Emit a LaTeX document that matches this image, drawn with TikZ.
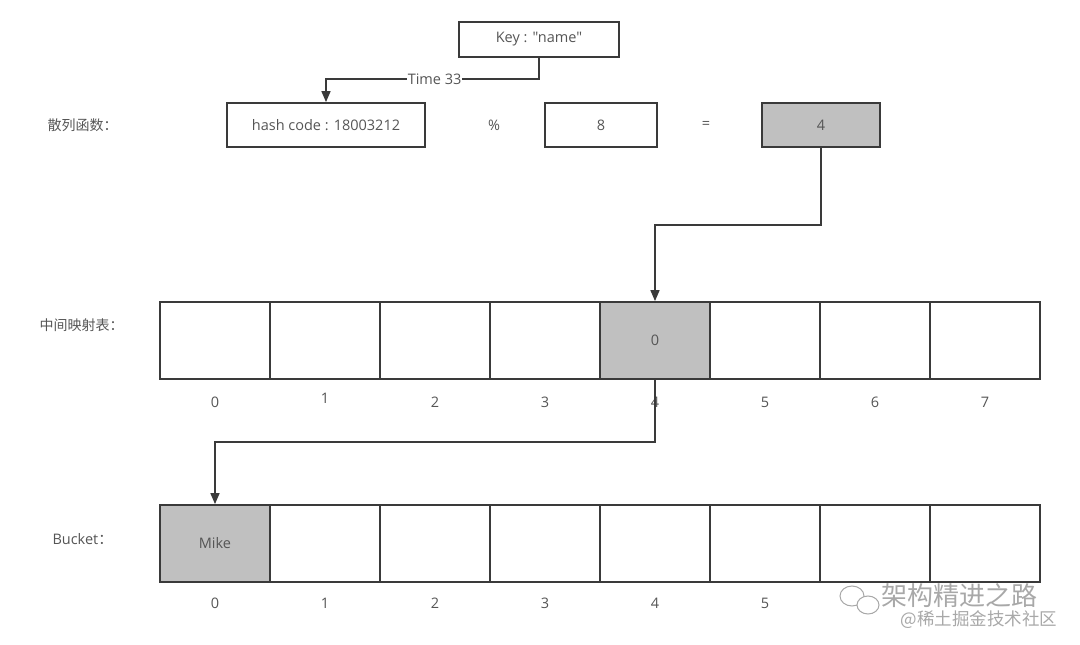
\documentclass[tikz,border=0pt]{standalone}
\usepackage{fontspec}
\setmainfont{Open Sans}[Ligatures=TeXOff]
\newfontfamily\cjk{Noto Sans CJK SC}
\usepackage{tikz}
\usetikzlibrary{positioning,arrows.meta}

\definecolor{linegray}{HTML}{3A3A3A}
\definecolor{textgray}{HTML}{555555}
\definecolor{cellgray}{HTML}{C0C0C0}
\definecolor{markgray}{HTML}{A8A8A8}

\tikzset{
  cell/.style={draw=linegray, line width=1.8pt, minimum width=110pt, minimum height=77pt, inner sep=0pt, text=textgray},
  box/.style={draw=linegray, line width=1.8pt, minimum height=44pt, inner sep=0pt, text=textgray},
  idx/.style={text=textgray},
  link/.style={draw=linegray, line width=1.6pt, -{Triangle[length=11pt,width=9pt]}},
}

\begin{document}
\begin{tikzpicture}[x=1pt, y=-1pt, node distance=110pt, on grid, font=\fontsize{14.5}{16}\selectfont]
			\useasboundingbox (0,0) rectangle (1080,645);
			% top: key and hash function
			\node[box, minimum width=160pt, minimum height=35pt] (key)  at (539,39.5)  {Key : "name"};
			\node[box, minimum width=198pt] (hash) at (326,125)   {hash code : 18003212};
			\node[idx]                      (mod)  at (494,125)   {\%};
			\node[box, minimum width=112pt] (size) at (601,125)   {8};
			\node[idx]                      (eq)   at (706,125)   {=};
			\node[box, minimum width=118pt, fill=cellgray] (res) at (821,125) {4};
			\node[idx, anchor=west, font=\cjk\fontsize{14}{16}\selectfont] (l_hash) at (44,125)  {散列函数：};
			% middle table
			\node[cell]              (c_0) at (215,340.5) {};
			\node[cell]              (c_1) [right=of c_0] {};
			\node[cell]              (c_2) [right=of c_1] {};
			\node[cell]              (c_3) [right=of c_2] {};
			\node[cell, fill=cellgray] (c_4) [right=of c_3] {0};
			\node[cell]              (c_5) [right=of c_4] {};
			\node[cell]              (c_6) [right=of c_5] {};
			\node[cell]              (c_7) [right=of c_6] {};
			\node[idx, anchor=west, font=\cjk\fontsize{14}{16}\selectfont] (l_map) at (36,325) {中间映射表：};
			\node[idx] (n_0) [below=62pt of c_0] {0};
			\node[idx] (n_1) [below=58pt of c_1] {1};
			\node[idx] (n_2) [below=62pt of c_2] {2};
			\node[idx] (n_3) [below=62pt of c_3] {3};
			\node[idx] (n_4) [below=62pt of c_4] {4};
			\node[idx] (n_5) [below=62pt of c_5] {5};
			\node[idx] (n_6) [below=62pt of c_6] {6};
			\node[idx] (n_7) [below=62pt of c_7] {7};
			% bucket
			\node[cell, fill=cellgray] (b_0) at (215,543.5) {Mike};
			\node[cell]              (b_1) [right=of b_0] {};
			\node[cell]              (b_2) [right=of b_1] {};
			\node[cell]              (b_3) [right=of b_2] {};
			\node[cell]              (b_4) [right=of b_3] {};
			\node[cell]              (b_5) [right=of b_4] {};
			\node[cell]              (b_6) [right=of b_5] {};
			\node[cell]              (b_7) [right=of b_6] {};
			\node[idx, anchor=west]  (l_bucket) at (49,539) {Bucket{\cjk ：}};
			\node[idx] (m_0) [below=60pt of b_0] {0};
			\node[idx] (m_1) [below=60pt of b_1] {1};
			\node[idx] (m_2) [below=60pt of b_2] {2};
			\node[idx] (m_3) [below=60pt of b_3] {3};
			\node[idx] (m_4) [below=60pt of b_4] {4};
			\node[idx] (m_5) [below=60pt of b_5] {5};
			% connectors
			\coordinate (k_1) at (key.south |- 0,79);
			\coordinate (r_1) at (res.south |- 0,225);
			\coordinate (t_1) at (c_4.south |- 0,442);
			\path[link] (key.south) -- (k_1) -- node[fill=white, inner sep=1pt, text=textgray, pos=0.49] {Time 33} (k_1 -| hash.north) -- (hash.north);
			\path[link] (res.south) -- (r_1) -- (r_1 -| c_4.north) -- (c_4.north);
			\path[link] (c_4.south) -- (t_1) -- (t_1 -| b_0.north) -- (b_0.north);
			% watermark
			\draw[markgray, line width=1pt, fill=white] (852,596) ellipse (12pt and 10pt);
			\draw[markgray, line width=1pt, fill=white] (868,605) ellipse (11pt and 9pt);
			\node[text=markgray, anchor=west, font=\cjk\fontsize{26}{28}\selectfont] (w_1) at (878,596) {架构精进之路};
			\node[text=markgray, anchor=west, font=\cjk\fontsize{17.5}{19}\selectfont] (w_2) at (897,620) {@稀土掘金技术社区};
		\end{tikzpicture}
\end{document}
